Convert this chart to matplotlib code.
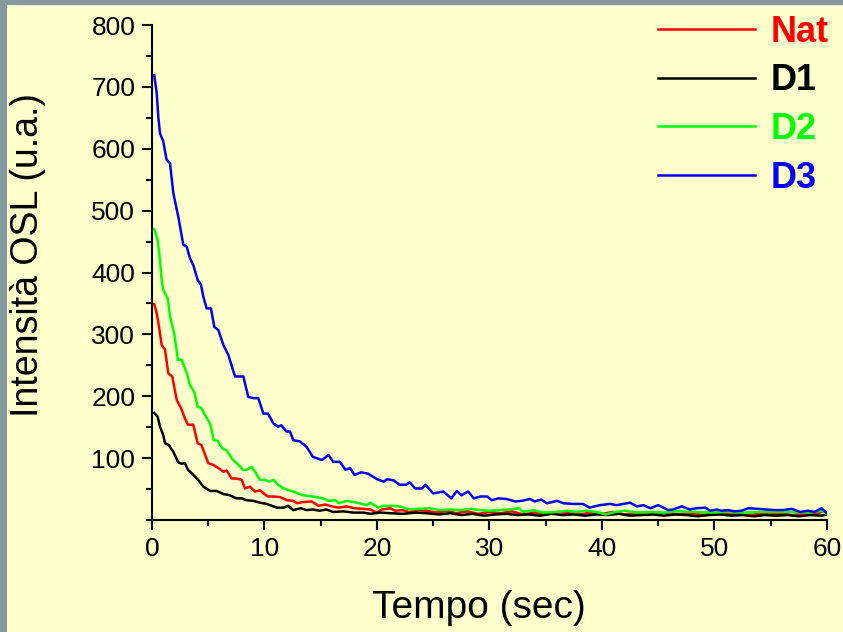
import matplotlib
matplotlib.use("Agg")
from matplotlib import pyplot as plt
from matplotlib.patches import Rectangle
from matplotlib.ticker import MultipleLocator

plt.rcParams['font.family'] = ['Liberation Sans', 'DejaVu Sans']

# Nat
t_nat = [0.2, 0.42, 0.62, 0.86, 1.16, 1.45, 1.8, 2.2, 2.58, 2.93, 3.2, 3.67, 4.06, 4.4, 5.0,
         5.45, 5.9, 6.34, 6.64, 7.08, 7.5, 7.97, 8.27, 8.7, 9.16, 9.6, 10.0, 10.3, 10.8, 11.4,
         12.0, 12.56, 12.9, 13.4, 14.2, 14.8, 15.4, 16.0, 16.6, 17.3, 18.0, 18.8, 19.4, 20.0, 20.4,
         21.2, 21.6, 22.3, 22.9, 23.7, 24.4,
         25.3, 26.2, 27.0, 28.0, 29.0, 30.0, 31.0, 32.0, 33.0, 34.0, 35.0, 36.0, 37.0, 38.0, 39.0,
         40.0, 41.0, 42.0, 43.0, 44.0, 45.0, 46.0, 47.0, 48.0, 49.0, 50.0, 51.0, 52.0, 53.0, 54.0,
         55.0, 56.0, 57.0, 58.0, 59.0, 59.6, 60.0]
nat = [349, 334, 313, 283, 275, 237, 232, 194, 181, 164, 154, 154, 124, 121, 92,
       89, 84, 78, 80, 67, 67, 65, 51, 54, 46, 48, 42, 38, 38, 37,
       32, 31, 27, 29, 30, 23, 25, 22, 20, 22, 19, 18, 17, 12, 17,
       19, 15, 16, 13, 16, 15,
       12, 15, 11, 14, 10, 13, 11, 14, 9, 12, 10, 13, 11, 9, 12,
       10, 13, 9, 11, 8, 12, 10, 9, 11, 8, 10, 9, 11, 8, 10,
       9, 10, 8, 10, 9, 14, 11]

# D1
t_d1 = [0.2, 0.5, 0.71, 1.0, 1.16, 1.5, 1.9, 2.34, 2.64, 2.93, 3.2, 3.67, 4.1, 4.56, 5.16,
        5.75, 6.34, 6.93, 7.5, 7.97, 8.4, 9.0, 9.6, 10.2, 10.64, 11.1, 11.7, 12.1, 12.56, 13.2,
        13.75, 14.3, 14.9, 15.5, 16.1, 17.0, 17.9, 18.8, 19.4, 20.3, 21.2, 22.3, 23.5, 24.4,
        25.5, 26.5, 27.5, 28.5, 29.5, 30.5, 31.5, 32.5, 33.5, 34.5, 35.5, 36.5, 37.5, 38.5, 39.5,
        40.5, 41.5, 42.5, 43.5, 44.5, 45.5, 46.5, 47.5, 48.5, 49.5, 50.5, 51.5, 52.5, 53.5, 54.5,
        55.5, 56.5, 57.5, 58.5, 59.5, 60.0]
d1 = [173, 167, 151, 137, 124, 121, 110, 93, 91, 92, 81, 73, 65, 54, 47,
      47, 42, 40, 35, 35, 32, 31, 28, 26, 23, 20, 20, 23, 16, 19,
      16, 17, 15, 17, 13, 14, 12, 12, 10, 12, 11, 10, 12, 11,
      9, 11, 8, 10, 7, 9, 10, 8, 9, 7, 10, 8, 9, 7, 9,
      8, 10, 7, 8, 9, 7, 9, 8, 6, 8, 9, 7, 8, 6, 8,
      7, 8, 6, 8, 7, 9]

# D2
t_d2 = [0.2, 0.5, 0.71, 0.86, 1.0, 1.4, 1.6, 2.0, 2.3, 2.64, 3.1, 3.38, 3.76, 4.06, 4.4,
        4.7, 5.16, 5.5, 5.84, 6.25, 6.6, 7.2, 7.7, 8.1, 8.4, 8.86, 9.16, 9.6, 10.0, 10.4,
        10.8, 11.2, 11.7, 12.56, 13.4, 14.3, 15.2, 15.7, 16.3, 16.6, 17.3, 18.2, 19.1, 19.4, 20.1,
        20.6, 21.5, 22.2, 22.9, 23.7, 24.7, 25.6, 26.5, 27.4, 28.3, 29.2, 30.0, 30.9, 31.8, 32.6,
        33.0, 33.9, 34.8, 36.0, 36.9, 37.7, 38.6, 39.5, 40.3, 41.2, 42.0, 43.1, 44.3, 45.5, 46.6,
        48.4, 49.6, 51.1, 52.6, 54.0, 55.5, 57.0, 58.5, 59.5, 60.0]
d2 = [470, 453, 420, 388, 372, 358, 329, 299, 259, 259, 237, 218, 207, 183, 181,
      170, 156, 129, 128, 116, 113, 97, 89, 81, 81, 86, 78, 65, 65, 62,
      65, 57, 51, 46, 40, 38, 35, 31, 32, 27, 31, 28, 24, 28, 20,
      23, 23, 21, 17, 18, 19, 16, 17, 16, 18, 16, 15, 16, 17, 19,
      13, 16, 12, 13, 15, 13, 15, 13, 9, 13, 15, 12, 13, 12, 14,
      13, 12, 13, 12, 13, 13, 13, 12, 15, 10]

# D3
t_d3 = [0.2, 0.42, 0.56, 0.71, 1.0, 1.3, 1.6, 1.9, 2.34, 2.78, 3.08, 3.38, 3.67, 4.06, 4.36,
        4.56, 4.86, 5.24, 5.54, 5.9, 6.34, 6.78, 7.38, 8.12, 8.56, 9.0, 9.45, 9.9, 10.3, 10.8,
        11.2, 11.5, 11.96, 12.27, 12.56, 13.15, 13.75, 14.3, 15.1, 15.7, 16.1, 16.7, 17.2, 17.6, 18.0,
        18.6, 19.2, 20.0, 20.6, 20.9, 21.5, 22.0, 22.6, 22.9, 23.4, 24.0, 24.3, 25.0, 25.9, 26.6,
        27.1, 27.5, 28.1, 28.6, 29.2, 29.8, 30.2, 30.8, 31.5, 32.3, 32.9, 33.6, 34.0, 34.6, 35.1,
        36.0, 36.6, 37.4, 38.3, 38.9, 39.8, 40.7, 41.3, 42.5, 43.1, 43.7, 44.3, 45.0, 45.9, 46.3,
        47.1, 47.8, 48.4, 49.2, 49.6, 50.2, 50.6, 51.2, 51.8, 52.4, 53.0, 53.9, 54.6, 55.4, 56.1,
        56.9, 57.6, 58.3, 58.9, 59.5, 60.0]
d3 = [719, 690, 652, 625, 612, 582, 577, 528, 490, 445, 442, 423, 412, 388, 380,
      361, 342, 342, 312, 307, 283, 267, 232, 232, 199, 197, 197, 172, 172, 156,
      151, 153, 143, 143, 129, 127, 118, 102, 97, 105, 94, 94, 81, 84, 73,
      77, 75, 66, 62, 66, 64, 57, 57, 61, 51, 51, 57, 43, 46, 35,
      47, 40, 46, 35, 38, 38, 32, 35, 34, 30, 31, 34, 30, 33, 27,
      31, 27, 26, 26, 20, 24, 26, 24, 28, 22, 24, 19, 24, 16, 17,
      22, 17, 19, 20, 15, 17, 15, 16, 14, 15, 19, 18, 17, 16, 16,
      18, 13, 15, 13, 19, 11]

series = [("Nat", t_nat, nat, "#ff0000"),
          ("D1", t_d1, d1, "#000000"),
          ("D2", t_d2, d2, "#00ff00"),
          ("D3", t_d3, d3, "#0000ff")]

fig = plt.figure(figsize=(8.43, 6.32), dpi=100)
fig.patch.set_facecolor("#83989f")
fig.patches.append(Rectangle((7 / 843, 0), 1, 1 - 5 / 632, transform=fig.transFigure,
                             facecolor="#ffffcc", edgecolor="none", zorder=-10))

ax = fig.add_axes([0.1803, 0.1772, 0.8007, 0.7832])
ax.set_facecolor("none")

for name, t, v, c in series:
    ax.plot(t, v, color=c, lw=1.8, label=name)

ax.set_xlim(0, 60)
ax.set_ylim(0, 800)
ax.xaxis.set_major_locator(MultipleLocator(10))
ax.xaxis.set_minor_locator(MultipleLocator(5))
ax.set_yticks([100, 200, 300, 400, 500, 600, 700, 800])
ax.yaxis.set_minor_locator(MultipleLocator(50))

for s in ["top", "right"]:
    ax.spines[s].set_visible(False)
for s in ["left", "bottom"]:
    ax.spines[s].set_linewidth(1.5)

ax.tick_params(which="major", length=7, width=1.5, labelsize=19, pad=5)
ax.tick_params(which="minor", length=4, width=1.5)

ax.set_xlabel("Tempo (sec)", fontsize=28)
ax.set_ylabel("Intensità OSL (u.a.)", fontsize=27)
ax.xaxis.label.set_va("center")
ax.yaxis.label.set_va("center")
ax.xaxis.set_label_coords(0.484, -0.178)
ax.yaxis.set_label_coords(-0.183, 0.535)

leg = ax.legend(loc="upper right", bbox_to_anchor=(0.983, 0.977),
                bbox_transform=fig.transFigure, frameon=False,
                prop={"size": 26, "weight": "bold"}, labelcolor="linecolor",
                handlelength=2.7, handletextpad=0.42, labelspacing=0.38,
                borderpad=0, borderaxespad=0)

fig.savefig("out.png", dpi=100, facecolor=fig.get_facecolor())
